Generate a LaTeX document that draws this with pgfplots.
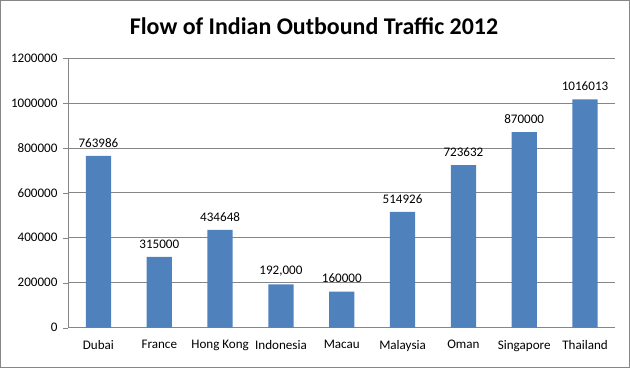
\documentclass[border=0pt]{standalone}
\usepackage{pgfplots}
\pgfplotsset{compat=1.18}
\usepackage{pgfplotstable}
\usepackage{fontspec}
\setmainfont{Carlito}
\definecolor{barblue}{HTML}{4F81BD}
\definecolor{gridgray}{HTML}{868686}
\pgfplotstableread{
x y label
0 763986 763986
1 315000 315000
2 434648 434648
3 192000 192,000
4 160000 160000
5 514926 514926
6 723632 723632
7 870000 870000
8 1016013 1016013
}\datatable
\begin{document}
\begin{tikzpicture}[x=1bp,y=1bp]
\begin{axis}[
  at={(0,0)}, anchor=south west,
  scale only axis,
  width=542bp, height=267bp,
  xmin=-0.5, xmax=8.5,
  ymin=0, ymax=1200000,
  ytick={0,200000,400000,600000,800000,1000000,1200000},
  yticklabels={0,200000,400000,600000,800000,1000000,1200000},
  xtick=data,
  xticklabels={Dubai,France,Hong Kong,Indonesia,Macau,Malaysia,Oman,Singapore,Thailand},
  x tick label style={font=\fontsize{13}{15}\selectfont, yshift=-4bp},
  y tick label style={font=\fontsize{13}{15}\selectfont, xshift=-2bp},
  scaled y ticks=false,
  axis line style={gridgray},
  axis x line*=bottom,
  axis y line*=left,
  x axis line style={-},
  y axis line style={-},
  ymajorgrids,
  grid style={gridgray, line width=0.6pt},
  major tick length=5bp,
  ytick style={gridgray},
  xtick style={draw=none},
  tick align=outside,
  ybar, bar width=25bp,
  nodes near coords,
  point meta=explicit symbolic,
  every node near coord/.append style={font=\fontsize{13}{15}\selectfont, black, yshift=5bp},
]
\addplot[fill=barblue, draw=none] table[x=x, y=y, meta=label] {\datatable};
\end{axis}
\node[font=\bfseries\fontsize{23.8}{28}\selectfont] at (243.5bp, 298bp) {Flow of Indian Outbound Traffic 2012};
\draw[gridgray, line width=0.8pt] (-67bp,-39bp) rectangle (556bp,324bp);
\end{tikzpicture}
\end{document}
